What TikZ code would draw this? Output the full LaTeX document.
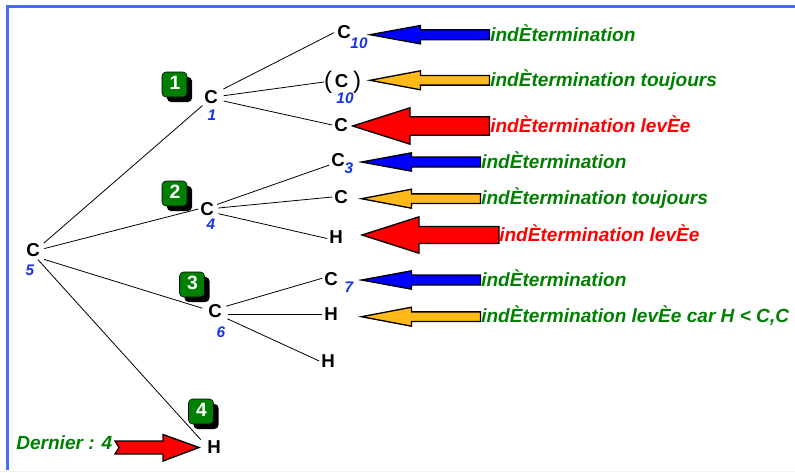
\documentclass[tikz,border=0pt]{standalone}
\usepackage{fontspec}
\setmainfont{Liberation Sans}
\definecolor{bord}{RGB}{70,110,250}
\definecolor{vert}{RGB}{0,128,0}
\definecolor{bleu}{RGB}{20,50,230}
\definecolor{jaune}{RGB}{255,185,25}
\tikzset{
 atom/.style={font=\bfseries\fontsize{14}{15}\selectfont,text=black,inner sep=0pt,outer sep=1.5pt,anchor=center},
 idx/.style={font=\bfseries\itshape\fontsize{11.5}{12}\selectfont,text=bleu,inner sep=0pt,anchor=center},
 lab/.style={font=\bfseries\itshape\fontsize{14.3}{15}\selectfont,text=vert,inner sep=0pt,anchor=base west},
 labr/.style={lab,text=red},
 bond/.style={draw=black,line width=0.6pt},
 tipa/.style={draw=black,line width=1pt,line join=miter},
 badge/.style={rounded corners=3pt},
 num/.style={font=\bfseries\fontsize{14.5}{15}\selectfont,text=white,inner sep=0pt},
 paren/.style={font=\fontsize{18}{19}\selectfont,inner sep=0pt,outer sep=0pt},
}
\begin{document}
\begin{tikzpicture}[x=0.75pt,y=-0.75pt]
\useasboundingbox (0,0) rectangle (795,472);
\fill[white] (0,0) rectangle (795,472);
\draw[bord,line width=2.1pt] (7.5,470) -- (7.5,6.3) -- (795,6.3);
\draw[black!6,line width=0.6pt] (0,471.3) -- (795,471.3);
% atoms
\node[atom] (c5) at (33,250) {C};
\node[atom] (c1) at (211,97) {C};
\node[atom] (c4) at (207,209) {C};
\node[atom] (c6) at (215,311) {C};
\node[atom] (h4) at (214,447) {H};
\node[atom] (a1) at (344,32) {C};
\node[atom] (a2) at (341.5,81) {C};
\node[atom] (a3) at (341,125) {C};
\node[atom] (b1) at (338,160) {C};
\node[atom] (b2) at (341,197) {C};
\node[atom] (b3) at (336,237) {H};
\node[atom] (d1) at (331,279) {C};
\node[atom] (d2) at (331,314) {H};
\node[atom] (d3) at (328,361) {H};
\node[paren] (po) at (328,82) {(};
\node[paren] (pf) at (357,82) {)};
% indices
\node[idx] (i1) at (212,115) {1};
\node[idx] (i4) at (211,224) {4};
\node[idx] (i5) at (30,270) {5};
\node[idx] (i6) at (221,332) {6};
\node[idx] (i7) at (349,287) {7};
\node[idx] (i3) at (349,168) {3};
\node[idx] (i10a) at (359,43) {10};
\node[idx] (i10b) at (345,98) {10};
% bonds
\draw[bond,shorten <=2pt] (c5.30) -- (c1.-135);
\draw[bond,shorten <=2pt] (c5.5) -- (c4.west);
\draw[bond,shorten <=2pt,shorten >=3pt] (c5.-45) -- (c6.170);
\draw[bond,shorten <=1pt,shorten >=5pt] (c5.-65) -- (h4.165);
\draw[bond,shorten <=3pt,shorten >=1pt] (c1.35) -- (a1.west);
\draw[bond,shorten <=3pt] (c1.5) -- (po.west);
\draw[bond,shorten <=3pt] (c1.-20) -- (a3.west);
\draw[bond,shorten <=1pt] (c4.25) -- (b1.-150);
\draw[bond,shorten <=2pt] (c4.5) -- (b2.west);
\draw[bond,shorten <=2pt] (c4.-25) -- (b3.-170);
\draw[bond,shorten <=2pt] (c6.25) -- (d1.175);
\draw[bond,shorten <=3pt] (c6.east|-d2) -- (d2.west);
\draw[bond,shorten <=3pt] (c6.-35) -- (d3.west);
% badges
\foreach \n/\x/\y in {1/176/84,2/176/193,3/193.5/284,4/202.5/411}{
 \fill[black,badge] (\x-9,\y-7) rectangle (\x+16,\y+18);
 \fill[vert,draw=black,line width=0.4pt,badge] (\x-14,\y-12) rectangle (\x+11,\y+13);
 \node[num] (n\n) at (\x-1,\y-1) {\n};
}
% arrows
\foreach \tip/\y/\neck/\tail/\hh/\hs/\c in {
 370/34.7/420.5/489.5/9.2/5/blue,
 370/80.3/420.5/489.5/9.5/4.8/jaune,
 352.7/126/410/489.5/18.2/9.2/red,
 361.5/162/411.5/480.5/9.2/5/blue,
 361.5/198.7/411.5/480.5/9.5/4.8/jaune,
 362/235/419/499/18.2/8.5/red,
 361.5/280/411.5/480.5/9.2/5/blue,
 361.5/316.7/411.5/480.5/9.5/4.8/jaune}{
 \draw[tipa,fill=\c] (\tip,\y) -- (\neck,\y-\hh) -- (\neck,\y-\hs) -- (\tail,\y-\hs) -- (\tail,\y+\hs) -- (\neck,\y+\hs) -- (\neck,\y+\hh) -- cycle;
}
\draw[tipa,fill=red] (199,447.5) -- (163,434.5) -- (163,441) -- (115,441) -- (119,447.5) -- (115,454) -- (163,454) -- (163,461) -- cycle;
% labels
\node[lab] (t1) at (490,41) {indÈtermination};
\node[lab] (t2) at (490,86.5) {indÈtermination toujours};
\node[labr] (t3) at (490,132.5) {indÈtermination levÈe};
\node[lab] (t4) at (481,168.3) {indÈtermination};
\node[lab] (t5) at (481,204.3) {indÈtermination toujours};
\node[labr] (t6) at (499,241) {indÈtermination levÈe};
\node[lab] (t7) at (481,286) {indÈtermination};
\node[lab] (t8) at (481,322.5) {indÈtermination levÈe car H < C,C};
\node[lab] (t9) at (16,449.5) {Dernier : 4};
\end{tikzpicture}
\end{document}
